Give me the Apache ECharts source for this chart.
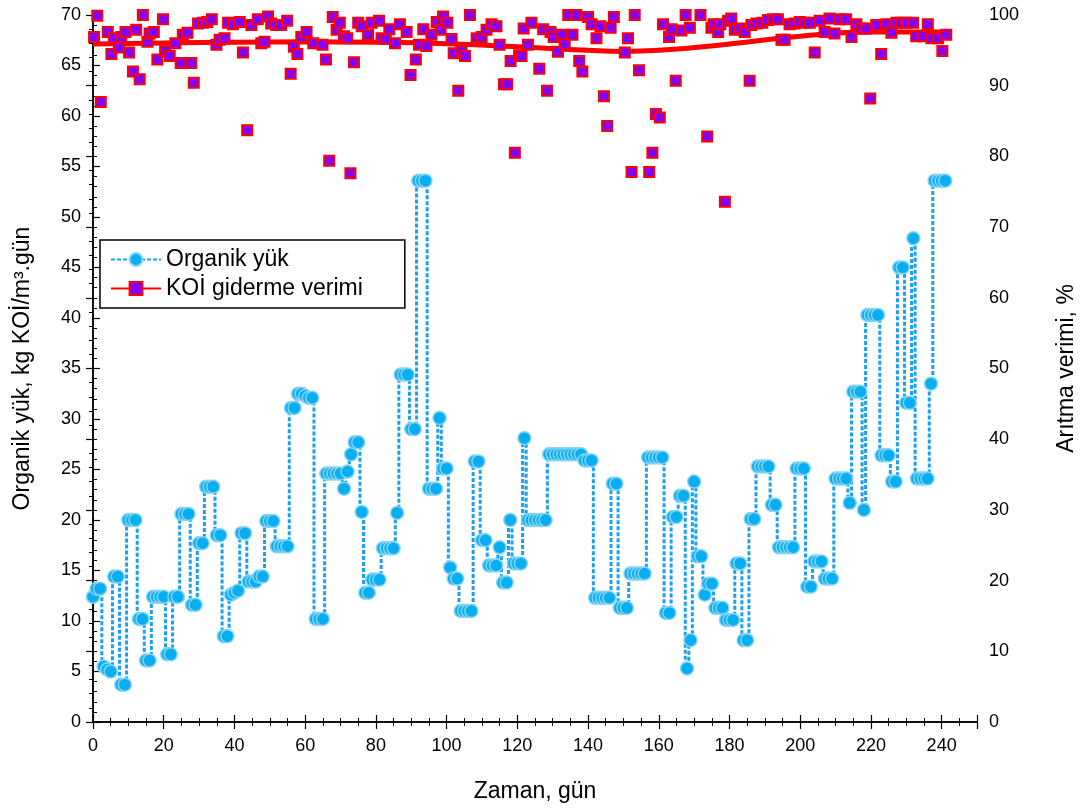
<!DOCTYPE html>
<html><head><meta charset="utf-8">
<script src="https://cdn.jsdelivr.net/npm/echarts@6/dist/echarts.min.js"></script>
<style>html,body{margin:0;padding:0;background:#fff}#c{width:1083px;height:810px}</style>
</head><body><div id="c"></div>
<script>
// Organik yük (kg KOİ/m3.gün), one value per day starting at day 0
const organikYuk = [
12.4,13.2,13.2,5.5,5.2,5.0,14.4,14.4,3.7,3.7,
20.0,20.0,20.0,10.2,10.2,6.1,6.1,12.4,12.4,12.4,
12.4,6.7,6.7,12.4,12.4,20.6,20.6,20.6,11.6,11.6,
17.7,17.7,23.3,23.3,23.3,18.5,18.5,8.5,8.5,12.6,
12.8,13.0,18.7,18.7,13.9,13.9,13.9,14.4,14.4,19.9,
19.9,19.9,17.4,17.4,17.4,17.4,31.1,31.1,32.5,32.5,
32.3,32.1,32.1,10.2,10.2,10.2,24.6,24.6,24.6,24.6,
24.6,23.1,24.8,26.5,27.7,27.7,20.8,12.8,12.8,14.1,
14.1,14.1,17.2,17.2,17.2,17.2,20.7,34.4,34.4,34.4,
29.0,29.0,53.6,53.6,53.6,23.1,23.1,23.1,30.1,25.1,
25.1,15.3,14.2,14.2,11.0,11.0,11.0,11.0,25.8,25.8,
18.0,18.0,15.5,15.5,15.5,17.3,13.8,13.8,20.0,15.7,
15.7,15.7,28.1,20.0,20.0,20.0,20.0,20.0,20.0,26.5,
26.5,26.5,26.5,26.5,26.5,26.5,26.5,26.5,26.5,25.9,
25.9,25.9,12.3,12.3,12.3,12.3,12.3,23.6,23.6,11.3,
11.3,11.3,14.7,14.7,14.7,14.7,14.7,26.2,26.2,26.2,
26.2,26.2,10.8,10.8,20.3,20.3,22.4,22.4,5.3,8.1,
23.8,16.4,16.4,12.6,13.7,13.7,11.3,11.3,11.3,10.1,
10.1,10.1,15.7,15.7,8.1,8.1,20.1,20.1,25.3,25.3,
25.3,25.3,21.5,21.5,17.3,17.3,17.3,17.3,17.3,25.1,
25.1,25.1,13.4,13.4,15.9,15.9,15.9,14.2,14.2,14.2,
24.1,24.1,24.1,24.1,21.7,32.7,32.7,32.7,21.0,40.3,
40.3,40.3,40.3,26.4,26.4,26.4,23.8,23.8,45.0,45.0,
31.6,31.6,47.9,24.1,24.1,24.1,24.1,33.5,53.6,53.6,
53.6,53.6
];
// KOİ giderme verimi (%) measurements: day and value
const verimGun = [
0.3,1.2,2.2,4.2,5.2,5.9,7.3,8.0,9.2,10.2,11.3,12.2,13.2,14.1,15.4,16.0,17.2,18.2,19.8,20.4,
21.7,23.3,24.8,25.4,26.7,27.8,28.5,29.7,31.1,32.3,33.6,34.9,35.8,37.2,38.2,39.6,41.5,42.4,43.6,44.8,
46.6,47.6,48.5,49.5,50.4,51.8,53.2,54.9,55.9,56.8,57.8,58.9,60.4,62.3,64.9,65.9,66.8,67.8,68.9,69.8,
71.0,71.9,72.8,73.8,75.0,76.0,77.8,78.8,80.9,81.6,82.8,83.8,85.4,86.8,88.7,89.8,91.3,92.2,93.4,94.3,
95.7,97.2,98.3,99.0,100.2,101.4,102.0,103.3,104.2,105.2,106.6,108.5,109.9,111.3,112.7,114.1,115.0,116.2,117.1,118.1,
119.3,120.5,121.2,121.8,123.0,124.0,126.2,127.3,128.4,129.4,130.3,131.5,132.5,133.4,134.4,135.6,136.7,137.5,138.4,140.0,
141.0,142.4,143.5,144.5,145.4,146.4,147.3,150.4,151.3,152.3,153.2,154.4,157.3,158.2,159.2,160.3,161.2,162.9,163.6,164.8,
166.4,167.6,168.8,171.8,173.7,174.9,175.5,176.8,177.4,178.7,179.6,180.5,181.5,182.9,184.3,185.7,186.2,187.6,189.3,190.9,
192.3,193.7,194.7,195.6,197.0,198.4,199.9,201.3,202.7,204.1,205.5,206.9,208.3,209.7,211.2,213.0,214.5,215.9,217.3,218.7,
219.8,221.5,222.9,224.4,225.8,227.2,228.6,230.0,231.9,232.8,234.7,236.1,237.1,239.0,240.2,241.3
];
const verimDeger = [
96.9,99.9,87.7,97.6,94.5,96.7,95.4,96.9,97.6,94.7,92.0,97.9,90.9,100,96.2,97.4,97.6,93.7,99.4,94.9,
94.2,96.0,93.2,97.2,97.5,93.2,90.4,98.8,98.9,99.0,99.4,95.8,96.5,96.7,98.9,98.7,99.0,94.7,83.7,98.6,
99.4,96.0,96.2,99.8,98.8,98.6,98.6,99.2,91.7,95.5,94.5,96.9,97.6,96.0,95.8,93.7,79.4,99.7,97.9,98.9,
97.0,96.7,77.6,93.3,98.9,98.4,97.2,98.9,99.2,96.7,96.6,98.0,96.0,98.7,97.6,91.5,93.7,95.8,98.0,95.6,
97.2,99.0,97.9,99.8,98.9,96.6,94.6,89.3,94.9,94.2,100,96.7,96.9,97.9,98.7,98.4,95.8,90.2,90.2,93.5,
80.5,94.3,94.2,98.1,95.8,98.9,92.4,98.0,89.3,97.6,96.9,94.8,97.2,95.9,100,97.2,100,93.5,92.0,99.7,
98.7,96.7,98.4,88.5,84.3,98.2,99.7,94.7,96.7,77.8,100,92.2,77.8,80.5,86.0,85.5,98.7,96.9,98.0,90.7,
97.8,100,98.2,100,82.8,98.2,98.7,97.6,98.7,73.6,99.2,99.5,97.9,98.1,97.6,90.7,98.6,98.8,98.9,99.3,
99.4,99.4,96.5,96.5,98.7,98.8,99.0,98.9,98.9,94.7,99.2,97.6,99.5,97.4,99.4,99.4,96.9,98.7,98.1,98.1,
88.2,98.6,94.5,98.7,97.5,98.9,98.9,98.9,98.9,97.0,97.0,98.7,96.7,96.7,94.9,97.2
];
// smoothed trend of removal efficiency
const trendGun = [0,20,40,60,80,100,120,140,150,160,180,200,220,241];
const trendDeger = [95.9,96.05,96.15,96.2,96.15,95.95,95.5,95.0,94.85,95.0,95.9,97.0,97.6,97.6];

const xTickLabels = [0,20,40,60,80,100,120,140,160,180,200,220,240];
const leftTicks = [0,5,10,15,20,25,30,35,40,45,50,55,60,65,70];
const rightTicks = [0,10,20,30,40,50,60,70,80,90,100];

const FONT = '"Liberation Sans", Arial, sans-serif';
const chart = echarts.init(document.getElementById('c'), null, {renderer: 'canvas'});

const axisCommon = {
  axisLine: {show: true, lineStyle: {color: '#000', width: 1.5}},
  axisTick: {show: true, inside: true, length: 7, lineStyle: {color: '#000', width: 1.2}},
  minorTick: {show: true, length: 4, lineStyle: {color: '#000', width: 1}},
  splitLine: {show: false},
  minorSplitLine: {show: false}
};
const nameStyle = {color: '#000', fontFamily: FONT, fontSize: 23};

const option = {
  animation: false,
  backgroundColor: '#fff',
  grid: {left: 93, right: 106, top: 15, bottom: 88, containLabel: false, outerBoundsMode: 'none'},
  legend: {
    show: true,
    orient: 'vertical',
    left: 100, top: 240,
    data: ['Organik yük', 'KOİ giderme verimi'],
    backgroundColor: '#fff',
    borderColor: '#000', borderWidth: 1.5, borderRadius: 0,
    padding: [8, 42, 8, 10],
    itemGap: 6,
    itemWidth: 50, itemHeight: 16,
    textStyle: {fontFamily: FONT, fontSize: 23, color: '#000'}
  },
  xAxis: [
    Object.assign({}, axisCommon, {
      type: 'value', min: 0, max: 250, interval: 20, position: 'bottom',
      minorTick: Object.assign({}, axisCommon.minorTick, {splitNumber: 4}),
      axisLabel: {show: true, showMaxLabel: false, color: '#000', fontFamily: FONT, fontSize: 18, margin: 15,
        formatter: v => xTickLabels.indexOf(v) >= 0 ? String(v) : ''},
      name: 'Zaman, gün', nameLocation: 'middle', nameGap: 58,
      nameTextStyle: nameStyle
    }),
    Object.assign({}, axisCommon, {
      type: 'value', min: 0, max: 250, interval: 20, position: 'top',
      minorTick: Object.assign({}, axisCommon.minorTick, {splitNumber: 4}),
      axisLabel: {show: false}
    })
  ],
  yAxis: [
    Object.assign({}, axisCommon, {
      type: 'value', min: 0, max: 70, interval: 5, position: 'left',
      minorTick: Object.assign({}, axisCommon.minorTick, {splitNumber: 5}),
      axisLabel: {color: '#000', fontFamily: FONT, fontSize: 18, margin: 12,
        formatter: v => leftTicks.indexOf(v) >= 0 ? String(v) : ''},
      name: 'Organik yük, kg KOİ/m³.gün', nameLocation: 'middle', nameGap: 59, nameRotate: 90,
      nameTextStyle: nameStyle
    }),
    Object.assign({}, axisCommon, {
      type: 'value', min: 0, max: 100, interval: 10, position: 'right',
      minorTick: Object.assign({}, axisCommon.minorTick, {splitNumber: 5}),
      axisLabel: {color: '#000', fontFamily: FONT, fontSize: 18, margin: 12,
        formatter: v => rightTicks.indexOf(v) >= 0 ? String(v) : ''},
      name: 'Arıtma verimi, %', nameLocation: 'middle', nameGap: 78, nameRotate: 90,
      nameTextStyle: nameStyle
    })
  ],
  series: [
    {
      name: 'Organik yük', type: 'line', xAxisIndex: 0, yAxisIndex: 0,
      data: organikYuk.map((v, i) => [i, v]),
      step: 'middle',
      lineStyle: {color: '#1b9ff0', width: 3, type: [4, 2]},
      symbol: 'circle', symbolSize: 13, showSymbol: true,
      itemStyle: {color: '#08aeef', borderColor: '#84d4f8', borderWidth: 1.5},
      z: 2
    },
    {
      name: 'KOİ giderme verimi', type: 'line', xAxisIndex: 0, yAxisIndex: 1,
      data: trendGun.map((d, i) => [d, trendDeger[i]]),
      smooth: 0.5,
      lineStyle: {color: '#ff0000', width: 5},
      symbol: 'rect', symbolSize: 10, showSymbol: false,
      itemStyle: {color: '#8000ff', borderColor: '#ff0000', borderWidth: 2},
      z: 3
    },
    {
      name: 'KOİ ölçüm', type: 'scatter', xAxisIndex: 0, yAxisIndex: 1,
      data: verimGun.map((d, i) => [d, verimDeger[i]]),
      symbol: 'rect', symbolSize: 10,
      itemStyle: {color: '#8000ff', borderColor: '#ff0000', borderWidth: 2, opacity: 1},
      z: 4
    }
  ]
};
chart.setOption(option);
</script>
</body></html>
